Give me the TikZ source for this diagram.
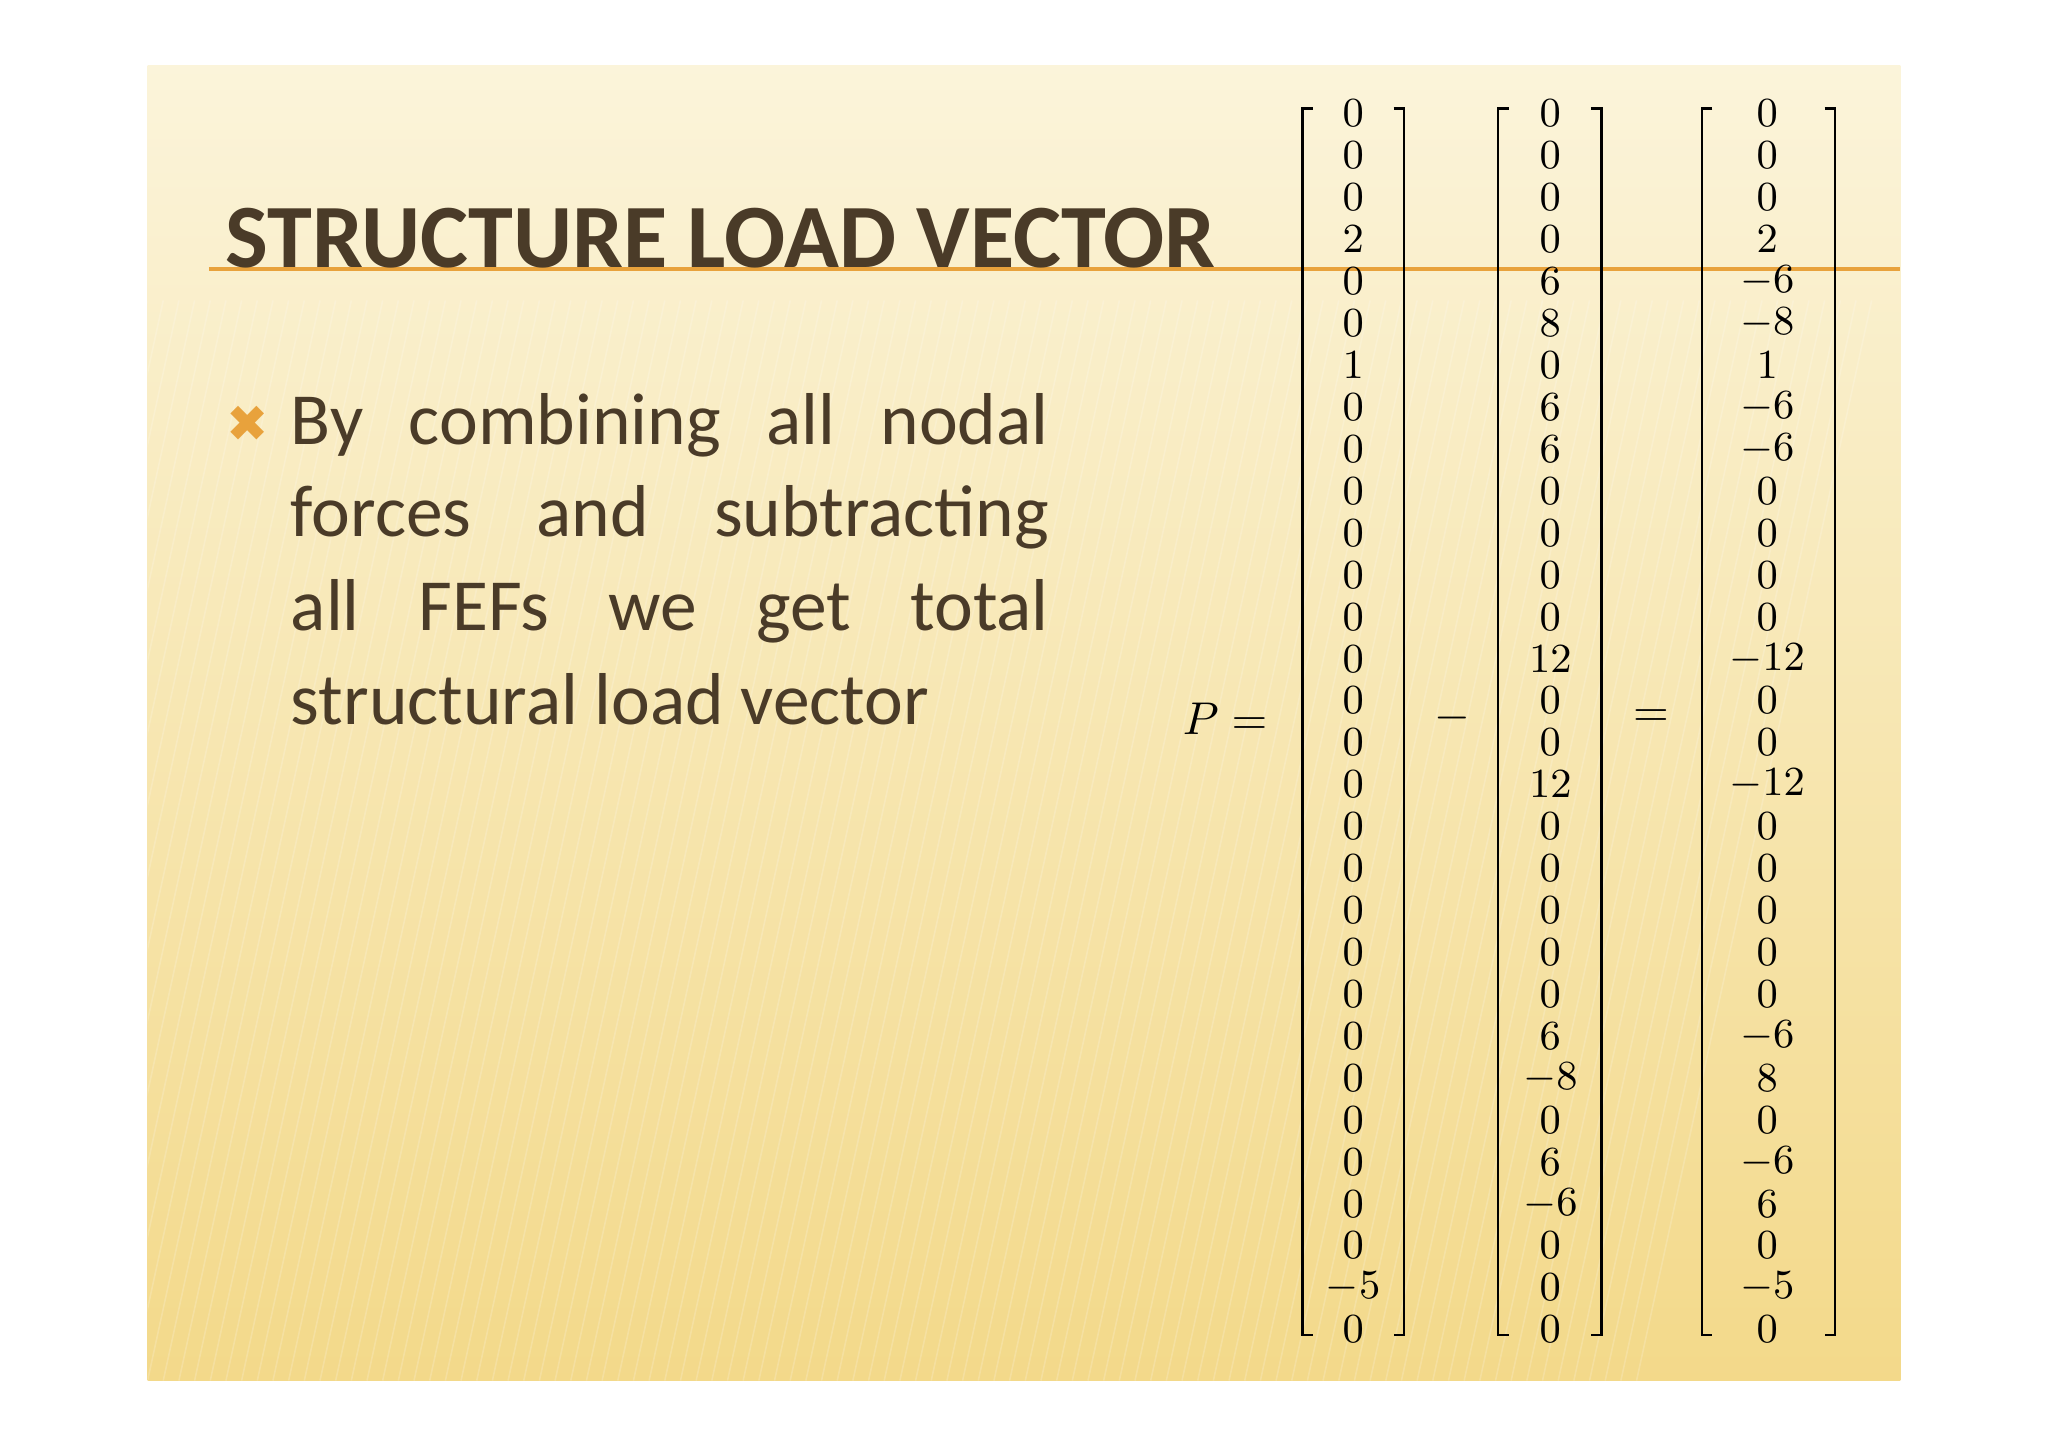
\documentclass[tikz,border=0pt]{standalone}
\usepackage{fontspec}
\setmainfont{Carlito}
\newfontfamily\symf{DejaVu Sans}
\usetikzlibrary{calc}
\definecolor{brownT}{HTML}{4A3B28}
\definecolor{orangeL}{HTML}{E8A23C}
\definecolor{bgtop}{HTML}{FBF4DA}
\definecolor{bgbot}{HTML}{F3D98A}
\tikzset{ent/.style={inner sep=0pt,font=\fontsize{9.5}{10}\selectfont,text=black},
 brk/.style={line width=0.02cm,black},
 bline/.style={anchor=base west,inner sep=0pt,text=brownT,font=\fontsize{16}{20}\selectfont}}
\begin{document}
\begin{tikzpicture}[x=0.01cm,y=-0.01cm]
\useasboundingbox (0,0) rectangle (1568,1108);
\fill[white] (0,0) rectangle (1568,1108);
\shade[top color=bgtop,bottom color=bgbot] (113,50) rectangle (1455,1057);
\begin{scope}
\clip (113,50) rectangle (1455,1057);
\foreach \i in {0,...,110}{
  \draw[white,opacity=0.18,line width=0.012cm] (113+\i*12,230) -- (113+\i*12-180,1057);
}
\end{scope}
\draw[orangeL,line width=0.03cm] (160,206) -- (1455,206);
\node[anchor=base west,inner sep=0pt,text=brownT,font=\fontsize{19.7}{22}\selectfont\bfseries] (title) at (172,205) {STRUCTURE LOAD VECTOR};
\node[anchor=base,inner sep=0pt,text=orangeL,font=\symf\fontsize{11}{12}\selectfont] (bul) at (190,338) {✖};
\node[bline] (l1) at (222,340) {\makebox[5.8cm][s]{By combining all nodal}};
\node[bline] (l2) at (222,411) {\makebox[5.8cm][s]{forces and subtracting}};
\node[bline] (l3) at (222,483) {\makebox[5.8cm][s]{all FEFs we get total}};
\node[bline] (l4) at (222,555) {structural load vector};
\node[ent,font=\fontsize{10}{11}\selectfont] (P) at (938,550) {$P=$};
\node[ent,font=\fontsize{10}{11}\selectfont] (minus) at (1112,550) {$-$};
\node[ent,font=\fontsize{10}{11}\selectfont] (eq) at (1264,550) {$=$};
\foreach \a/\b [count=\k] in {997/1075,1147/1226,1303/1405}{
  \draw[brk] (\a+8,83) -- (\a,83) -- (\a,1022) -- (\a+8,1022);
  \draw[brk] (\b-8,83) -- (\b,83) -- (\b,1022) -- (\b-8,1022);
}
\foreach \v [count=\i from 0] in {0,0,0,2,0,0,1,0,0,0,0,0,0,0,0,0,0,0,0,0,0,0,0,0,0,0,0,0,-5,0}
  \node[ent] (a\i) at (1036,87+\i*32.1) {$\v$};
\foreach \v [count=\i from 0] in {0,0,0,0,6,8,0,6,6,0,0,0,0,12,0,0,12,0,0,0,0,0,6,-8,0,6,-6,0,0,0}
  \node[ent] (b\i) at (1187,87+\i*32.1) {$\v$};
\foreach \v [count=\i from 0] in {0,0,0,2,-6,-8,1,-6,-6,0,0,0,0,-12,0,0,-12,0,0,0,0,0,-6,8,0,-6,6,0,-5,0}
  \node[ent] (c\i) at (1353,87+\i*32.1) {$\v$};
\end{tikzpicture}
\end{document}
